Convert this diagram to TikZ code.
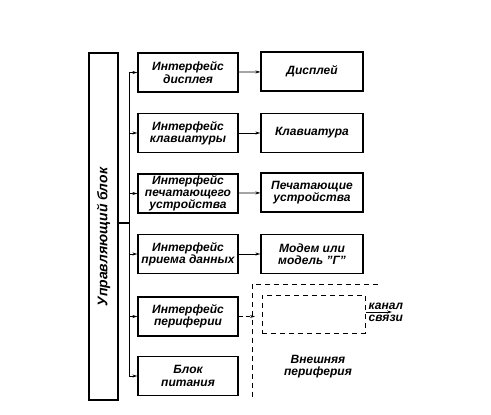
\documentclass[tikz,border=0pt]{standalone}
\usepackage{fontspec}
\setmainfont{Liberation Sans}
\usepackage{tikz}
\usetikzlibrary{arrows.meta, positioning}

\begin{document}
\begin{tikzpicture}[x=1pt, y=-1pt,
    every node/.style={font=\bfseries\itshape\fontsize{12}{12.2}\selectfont, align=center},
    blk/.style={draw, line width=1.2pt, minimum width=100pt, minimum height=39pt, inner sep=1pt},
    dev/.style={blk, minimum width=102pt},
    link/.style={-{Stealth[length=5pt,width=3pt]}, line width=0.8pt},
    dlink/.style={link, dashed, dash pattern=on 4pt off 3pt}]
    \useasboundingbox (0,0) rectangle (491,415);

    % control block
    \node[draw, line width=1.2pt, minimum width=29pt, minimum height=347pt, inner sep=0pt] (cb) at (103.5,226.5) {};
    \node[rotate=90, font=\bfseries\itshape\fontsize{14}{15}\selectfont] (cbtxt) at (103.5,237) {Управляющий блок};

    % interfaces
    \node[blk] (idisp) at (188,72.5) {Интерфейс\\дисплея};
    \node[blk] (ikbd) at (188,133) {Интерфейс\\клавиатуры};
    \node[blk] (iprn) at (188,193.5) {Интерфейс\\печатающего\\устройства};
    \node[blk] (irx) at (188,254) {Интерфейс\\приема данных};
    \node[blk] (iper) at (188,316.5) {Интерфейс\\периферии};
    \node[blk] (pwr) at (188,376) {Блок\\питания};

    % devices
    \node[dev] (disp) at (312,71.5) {Дисплей};
    \node[dev] (kbd) at (312,133) {Клавиатура};
    \node[dev] (prn) at (312,192.5) {Печатающие\\устройства};
    \node[dev] (modem) at (312,254) {Модем или\\модель ''Г''};

    % bus
    \coordinate (busx) at (129,0);
    \coordinate (busin) at (129,223);
    \draw[line width=0.8pt] (busx |- idisp.west) -- (busx |- pwr.west);
    \draw[line width=1.5pt] (cb.east |- busin) -- (busin);
    \foreach \n in {idisp,ikbd,iprn,irx,iper,pwr}
        \draw[link] (busx |- \n.west) -- (\n.west);

    % interface to device
    \draw[link] (idisp) -- (disp);
    \draw[link] (ikbd) -- (kbd);
    \draw[link] (iprn) -- (prn);
    \draw[link] (irx) -- (modem);

    % external periphery
    \draw[line width=1pt, dashed, dash pattern=on 5pt off 4pt] (252,397) -- (252,284) -- (378,284);
    \node[draw, line width=1pt, dashed, dash pattern=on 5pt off 4pt, minimum width=103pt, minimum height=38pt] (ext) at (313.5,314) {};
    \coordinate (edge) at (255,316.5);
    \draw[dlink] (iper.east) -- (edge);
    \coordinate (chan) at (392,312);
    \draw[link] (ext.east |- chan) -- (chan);
    \node[above right, inner sep=2.5pt] (chtop) at (366,312) {канал};
    \node[below right, inner sep=2.5pt] (chbot) at (366,312) {связи};
    \node (extlbl) at (318,367) {Внешняя\\периферия};
\end{tikzpicture}
\end{document}
